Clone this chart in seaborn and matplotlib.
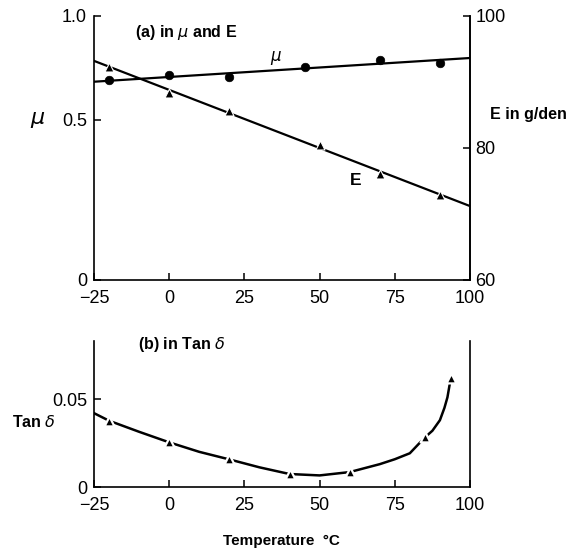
import numpy as np
import matplotlib
matplotlib.use("Agg")
import matplotlib.pyplot as plt
import seaborn as sns

# (a) friction coefficient mu and modulus E against temperature
mu_temp = [-20, 0, 20, 45, 70, 90]
mu_vals = [0.69, 0.716, 0.708, 0.756, 0.788, 0.773]
mu_fit_temp = [-25, 100]
mu_fit = [0.684, 0.798]

e_temp = [-20, 0, 20, 50, 70, 90]
e_vals = [92.3, 88.4, 85.6, 80.5, 76.0, 72.9]
e_fit_temp = [-25, 100]
e_fit = [93.2, 71.2]

# (b) tan delta against temperature
tan_temp = [-20, 0, 20, 40, 60, 85, 93.6]
tan_vals = [0.0377, 0.0254, 0.0157, 0.0074, 0.0085, 0.0282, 0.0618]
curve_temp = [-25, -20, -10, 0, 10, 20, 30, 40, 50, 60, 70, 75, 80, 85,
              87.5, 90, 91.5, 92.5, 93.6]
curve_vals = [0.042, 0.0377, 0.0314, 0.0254, 0.0200, 0.0157, 0.0112, 0.0074,
              0.0066, 0.0085, 0.013, 0.0158, 0.0192, 0.0282, 0.032, 0.038,
              0.045, 0.051, 0.0618]

temp_ticks = [-25, 0, 25, 50, 75, 100]
mu_ticks = [0, 0.5, 1.0]
mu_labels = ["0", "0.5", "1.0"]
e_ticks = [60, 80, 100]
tan_ticks = [0, 0.05]
tan_labels = ["0", "0.05"]

sns.set_style("ticks")
plt.rcParams["font.family"] = ["Liberation Sans", "DejaVu Sans"]
plt.rcParams["axes.linewidth"] = 1.2
for key in ("text.color", "axes.labelcolor", "xtick.color", "ytick.color", "axes.edgecolor"):
    plt.rcParams[key] = "black"


# the printed mu axis is not evenly spaced: 0.5 sits higher than midway
def mu_fwd(v):
    v = np.asarray(v, dtype=float)
    return np.where(v <= 0.5, v * 1.212, 0.606 + (v - 0.5) * 0.788)


def mu_inv(u):
    u = np.asarray(u, dtype=float)
    return np.where(u <= 0.606, u / 1.212, 0.5 + (u - 0.606) / 0.788)


fig = plt.figure(figsize=(5.69, 5.53), dpi=100)
ax = fig.add_axes([0.1652, 0.4937, 0.6608, 0.4774])
ax2 = ax.twinx()
axb = fig.add_axes([0.1652, 0.1193, 0.6608, 0.264])

# --- panel (a)
ax.set_yscale("function", functions=(mu_fwd, mu_inv))
sns.lineplot(x=mu_fit_temp, y=mu_fit, ax=ax, color="black", lw=1.6)
sns.scatterplot(x=mu_temp, y=mu_vals, ax=ax, marker="o", s=38, color="black",
                edgecolor="black", zorder=3)
sns.lineplot(x=e_fit_temp, y=e_fit, ax=ax2, color="black", lw=1.6)
sns.scatterplot(x=e_temp, y=e_vals, ax=ax2, marker="^", s=42, color="black",
                edgecolor="white", linewidth=0.8, zorder=3)

ax.set_xlim(-25, 100)
ax.set_ylim(0, 1.0)
ax2.set_ylim(60, 100)
ax.set_xticks(temp_ticks)
ax.set_yticks(mu_ticks)
ax.set_yticklabels(mu_labels)
ax.yaxis.set_minor_locator(matplotlib.ticker.NullLocator())
ax2.set_yticks(e_ticks)
ax.set_xlabel("")
ax.set_ylabel("")
ax2.set_ylabel("")

for a in (ax, ax2):
    a.spines["top"].set_visible(False)
    a.tick_params(direction="in", length=5, width=1.1, labelsize=13, pad=5)
ax.tick_params(axis="x", pad=7)
ax2.spines["left"].set_visible(False)
ax2.spines["bottom"].set_visible(False)
ax2.tick_params(pad=4)

ax.text(35.5, 0.80, r"$\mu$", fontsize=12, ha="center", va="center")
ax2.text(62, 75.0, "E", fontsize=12.5, fontweight="bold", ha="center", va="center")

# --- panel (b)
sns.lineplot(x=curve_temp, y=curve_vals, ax=axb, color="black", lw=1.8)
sns.scatterplot(x=tan_temp, y=tan_vals, ax=axb, marker="^", s=50, color="black",
                edgecolor="white", linewidth=1.6, zorder=3)
axb.set_xlim(-25, 100)
axb.set_ylim(0, 0.083)
axb.set_xticks(temp_ticks)
axb.set_yticks(tan_ticks)
axb.set_yticklabels(tan_labels)
axb.set_xlabel("")
axb.set_ylabel("")
axb.spines["top"].set_visible(False)
axb.tick_params(direction="in", length=5, width=1.1, labelsize=13, pad=5)
axb.tick_params(axis="x", pad=7)

# --- labels
bold = dict(fontweight="bold", fontsize=11.5)
fig.text(135 / 569, 1 - 33 / 553, r"(a) in $\mu$ and E", ha="left", va="center", **bold)
fig.text(30 / 569, 1 - 120 / 553, r"$\mu$", ha="left", va="center", fontsize=16)
fig.text(490 / 569, 1 - 115 / 553, "E in g/den", ha="left", va="center", **bold)
fig.text(138 / 569, 1 - 345 / 553, r"(b) in Tan $\delta$", ha="left", va="center", **bold)
fig.text(12 / 569, 1 - 422 / 553, r"Tan $\delta$", ha="left", va="center", **bold)
fig.text(281 / 569, 1 - 541 / 553, "Temperature  °C", ha="center", va="center",
         fontweight="bold", fontsize=11)

fig.savefig("out.png", dpi=100)
